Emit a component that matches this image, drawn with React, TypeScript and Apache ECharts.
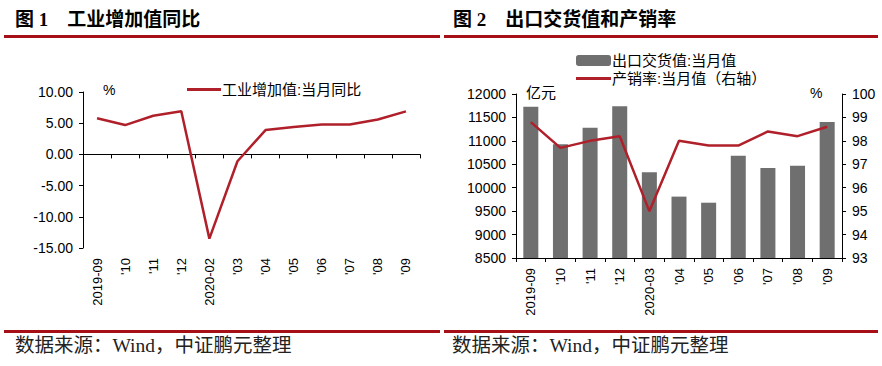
import React, { useEffect, useRef } from "react";
import * as echarts from "echarts";

const iavCategories = ["2019-09", "'10", "'11", "'12", "2020-02", "'03", "'04", "'05", "'06", "'07", "'08", "'09"];
const iavValues = [5.8, 4.7, 6.2, 6.9, -13.5, -1.1, 3.9, 4.4, 4.8, 4.8, 5.6, 6.9];

const expCategories = ["2019-09", "'10", "'11", "'12", "2020-03", "'04", "'05", "'06", "'07", "'08", "'09"];
const exportValues = [11730, 10930, 11280, 11740, 10330, 9810, 9680, 10680, 10420, 10470, 11400];
const salesRate = [98.8, 97.7, 98.0, 98.2, 95.0, 98.0, 97.8, 97.8, 98.4, 98.2, 98.6];

const RED = "#B0202A";
const GRAY = "#6f6f6f";
const SANS = "'Liberation Sans', Arial, 'Noto Sans CJK SC', sans-serif";
const SERIF = "'Liberation Serif', 'Times New Roman', 'Noto Sans CJK SC', serif";

export default function App() {
  const ref = useRef<HTMLDivElement>(null);
  useEffect(() => {
    if (!ref.current) return;
    const chart = echarts.init(ref.current, null, { renderer: "svg" });
    const axisLabel = { color: "#000", fontSize: 14, fontFamily: SANS };
    const xLabel = { color: "#000", fontSize: 13, fontFamily: SANS, rotate: 90, margin: 10, interval: 0 };
    const blackLine = { lineStyle: { color: "#000", width: 1 } };
    const legendText = { fontSize: 15, color: "#000", fontFamily: SANS, padding: [0, 0, 0, -4] };
    const option: any = {
      animation: false,
      backgroundColor: "#fff",
      textStyle: { fontFamily: SANS },
      legend: [
        {
          data: [{ name: "工业增加值:当月同比", icon: "rect" }],
          left: 182,
          top: 77,
          itemWidth: 34,
          itemHeight: 3,
          textStyle: legendText,
        },
        {
          data: [{ name: "出口交货值:当月值", icon: "roundRect" }],
          left: 571,
          top: 48,
          itemWidth: 35,
          itemHeight: 11,
          textStyle: legendText,
        },
        {
          data: [{ name: "产销率:当月值（右轴）", icon: "rect" }],
          left: 571,
          top: 66,
          itemWidth: 35,
          itemHeight: 3,
          textStyle: legendText,
        },
      ],
      grid: [
        { left: 83, top: 92, width: 337, height: 156 },
        { left: 516, top: 94, width: 326, height: 164 },
      ],
      xAxis: [
        {
          type: "category",
          gridIndex: 0,
          data: iavCategories,
          axisLine: { onZero: true, ...blackLine },
          axisTick: { show: true, length: 4, interval: 0, lineStyle: { color: "#000" } },
          axisLabel: { show: false },
          splitLine: { show: false },
        },
        {
          type: "category",
          gridIndex: 0,
          data: iavCategories,
          position: "bottom",
          axisLine: { show: false, onZero: false },
          axisTick: { show: false },
          axisLabel: xLabel,
          splitLine: { show: false },
        },
        {
          type: "category",
          gridIndex: 1,
          data: expCategories,
          axisLine: { onZero: false, ...blackLine },
          axisTick: { show: true, length: 4, interval: 0, lineStyle: { color: "#000" } },
          axisLabel: xLabel,
          splitLine: { show: false },
        },
      ],
      yAxis: [
        {
          type: "value",
          gridIndex: 0,
          min: -15,
          max: 10,
          interval: 5,
          axisLine: { show: true, ...blackLine },
          axisTick: { show: true, length: 4, lineStyle: { color: "#000" } },
          axisLabel: { ...axisLabel, margin: 10, formatter: (v: number) => v.toFixed(2) },
          splitLine: { show: false },
        },
        {
          type: "value",
          gridIndex: 1,
          min: 8500,
          max: 12000,
          interval: 500,
          axisLine: { show: true, ...blackLine },
          axisTick: { show: true, length: 4, lineStyle: { color: "#000" } },
          axisLabel: { ...axisLabel, margin: 10, formatter: (v: number) => String(v) },
          splitLine: { show: false },
        },
        {
          type: "value",
          gridIndex: 1,
          position: "right",
          min: 93,
          max: 100,
          interval: 1,
          axisLine: { show: true, ...blackLine },
          axisTick: { show: true, length: 4, lineStyle: { color: "#000" } },
          axisLabel: { ...axisLabel, margin: 10, formatter: (v: number) => String(v) },
          splitLine: { show: false },
        },
      ],
      series: [
        {
          name: "工业增加值:当月同比",
          type: "line",
          xAxisIndex: 0,
          yAxisIndex: 0,
          data: iavValues,
          symbol: "none",
          lineStyle: { color: RED, width: 2.5 },
          itemStyle: { color: RED },
        },
        {
          name: "出口交货值:当月值",
          type: "bar",
          xAxisIndex: 2,
          yAxisIndex: 1,
          data: exportValues,
          barWidth: 15,
          itemStyle: { color: GRAY },
        },
        {
          name: "产销率:当月值（右轴）",
          type: "line",
          xAxisIndex: 2,
          yAxisIndex: 2,
          data: salesRate,
          symbol: "none",
          lineStyle: { color: RED, width: 2.5 },
          itemStyle: { color: RED },
        },
      ],
      graphic: [
        { type: "text", left: 15, top: 10, style: { text: "图 1    工业增加值同比", font: `bold 19px ${SERIF}`, fill: "#000" } },
        { type: "text", left: 453, top: 10, style: { text: "图 2    出口交货值和产销率", font: `bold 19px ${SERIF}`, fill: "#000" } },
        { type: "rect", shape: { x: 4, y: 35, width: 436, height: 3 }, style: { fill: "#A50F15" } },
        { type: "rect", shape: { x: 444, y: 35, width: 434, height: 3 }, style: { fill: "#A50F15" } },
        { type: "rect", shape: { x: 4, y: 330, width: 436, height: 3 }, style: { fill: "#A50F15" } },
        { type: "rect", shape: { x: 444, y: 330, width: 434, height: 3 }, style: { fill: "#A50F15" } },
        { type: "text", left: 15, top: 336, style: { text: "数据来源：Wind，中证鹏元整理", font: `19.5px ${SERIF}`, fill: "#222" } },
        { type: "text", left: 452, top: 336, style: { text: "数据来源：Wind，中证鹏元整理", font: `19.5px ${SERIF}`, fill: "#222" } },
        { type: "text", left: 103, top: 83, style: { text: "%", font: `14px ${SANS}`, fill: "#000" } },
        { type: "text", left: 526, top: 85, style: { text: "亿元", font: `15px ${SANS}`, fill: "#000" } },
        { type: "text", left: 810, top: 86, style: { text: "%", font: `14px ${SANS}`, fill: "#000" } },
      ],
    };
    chart.setOption(option);
    return () => chart.dispose();
  }, []);
  return <div ref={ref} style={{ width: 882, height: 366, position: "absolute", left: 0, top: 0 }} />;
}
